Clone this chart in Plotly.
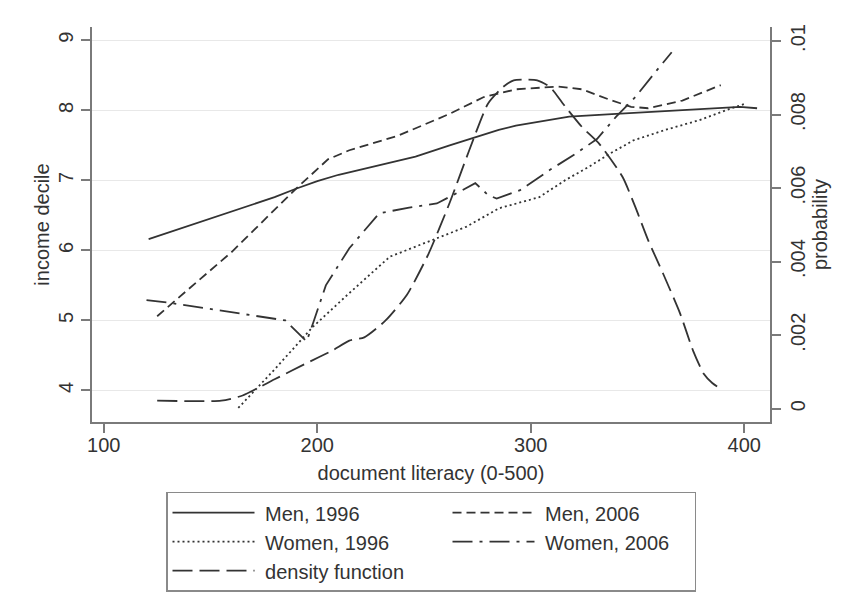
import plotly.graph_objects as go

# Income decile by document literacy score, with the literacy density
men96_x = [121, 140, 160, 180, 190, 200, 210, 230, 246, 262, 274, 285, 293, 305, 318, 340, 363, 387, 398, 406]
men96_y = [6.16, 6.35, 6.55, 6.76, 6.88, 6.99, 7.08, 7.22, 7.34, 7.50, 7.62, 7.72, 7.78, 7.84, 7.91, 7.95, 7.99, 8.03, 8.05, 8.03]

men06_x = [125, 160, 190, 205, 215, 238, 262, 278, 293, 313, 324, 337, 347, 355, 371, 389]
men06_y = [5.06, 5.98, 6.88, 7.30, 7.43, 7.64, 7.95, 8.19, 8.30, 8.34, 8.30, 8.15, 8.05, 8.03, 8.14, 8.36]

women96_x = [163, 180, 198, 215, 234, 254, 270, 285, 304, 316, 327, 337, 348, 363, 379, 394, 401]
women96_y = [3.75, 4.30, 4.91, 5.39, 5.91, 6.15, 6.34, 6.60, 6.76, 7.00, 7.19, 7.38, 7.57, 7.72, 7.86, 8.03, 8.10]

women06_x = [120, 131, 185, 195, 198, 204, 215, 229, 243, 256, 268, 274, 280, 284, 295, 309, 321, 331, 340, 349, 359, 366]
women06_y = [5.29, 5.25, 5.00, 4.70, 4.96, 5.50, 6.03, 6.53, 6.61, 6.67, 6.86, 6.96, 6.79, 6.74, 6.86, 7.15, 7.38, 7.59, 7.91, 8.19, 8.57, 8.83]

density_x = [125, 155, 165, 180, 195, 207, 215, 222, 232, 242, 252, 262, 271, 280, 287, 292, 298, 303, 309, 315,
             324, 332, 343, 349, 355, 362, 370, 376, 381, 385, 390]
density_y = [0.00022, 0.00022, 0.00036, 0.0008, 0.00124, 0.00158, 0.00185, 0.00194, 0.0024, 0.0031, 0.0042, 0.0056,
             0.0070, 0.0083, 0.00875, 0.00893, 0.00895, 0.00893, 0.00875, 0.0083, 0.00766, 0.00721, 0.0063, 0.00548,
             0.00458, 0.00367, 0.00258, 0.00158, 0.00095, 0.0007, 0.0005]

x_ticks = [100, 200, 300, 400]
decile_ticks = [4, 5, 6, 7, 8, 9]
prob_ticks = [0, 0.002, 0.004, 0.006, 0.008, 0.01]
prob_labels = ["0", ".002", ".004", ".006", ".008", ".01"]

INK = "#333333"
AXIS = "#7a7a7a"
FONT = "Liberation Sans, Arial, sans-serif"
PAD = "\u00a0"  # small gap between legend key and its label

# left legend column entries are wider so the right column sits further out
COL1_W = 183
COL2_W = 150

fig = go.Figure()
fig.add_trace(go.Scatter(x=men96_x, y=men96_y, name=PAD + "Men, 1996", mode="lines", legendwidth=COL1_W,
                         line=dict(color=INK, width=1.8, dash="solid")))
fig.add_trace(go.Scatter(x=men06_x, y=men06_y, name=PAD + "Men, 2006", mode="lines", legendwidth=COL2_W,
                         line=dict(color=INK, width=1.8, dash="9px,5px")))
fig.add_trace(go.Scatter(x=women96_x, y=women96_y, name=PAD + "Women, 1996", mode="lines", legendwidth=COL1_W,
                         line=dict(color=INK, width=1.8, dash="2px,3px")))
fig.add_trace(go.Scatter(x=women06_x, y=women06_y, name=PAD + "Women, 2006", mode="lines", legendwidth=COL2_W,
                         line=dict(color=INK, width=1.8, dash="20px,7px,3px,7px")))
fig.add_trace(go.Scatter(x=density_x, y=density_y, name=PAD + "density function", mode="lines", yaxis="y2",
                         legendwidth=COL1_W,
                         line=dict(color=INK, width=1.8, dash="20px,7px", shape="spline", smoothing=0.6)))

axis_common = dict(showline=True, linecolor=AXIS, linewidth=1.5, ticks="outside", ticklen=9,
                   tickwidth=1.5, tickcolor=AXIS, zeroline=False,
                   tickfont=dict(size=20, color=INK, family=FONT))

fig.update_layout(
    width=842, height=614,
    margin=dict(l=92, r=72, t=27, b=192),
    paper_bgcolor="white", plot_bgcolor="white",
    font=dict(family=FONT, color=INK, size=20),
    xaxis=dict(range=[94.47, 412.05], tickvals=x_ticks, showgrid=False, ticklabelstandoff=-5,
               title=dict(text="document literacy (0-500)", font=dict(size=20), standoff=11),
               **axis_common),
    yaxis=dict(range=[3.549, 9.19], tickvals=decile_ticks, showgrid=True, gridcolor="#e8e8e8", gridwidth=1,
               tickangle=-90, title=dict(text="income decile", font=dict(size=20), standoff=0),
               **axis_common),
    yaxis2=dict(range=[-0.000361, 0.01038], tickvals=prob_ticks, ticktext=prob_labels, overlaying="y",
                side="right", showgrid=False, tickangle=-90,
                title=dict(text="probability", font=dict(size=20), standoff=0),
                **axis_common),
    legend=dict(orientation="h", x=0.5, xanchor="center", y=-0.1765, yanchor="top",
                bordercolor="#8a8a8a", borderwidth=1.5, bgcolor="white",
                itemwidth=82, entrywidthmode="pixels",
                font=dict(size=20, color=INK, family=FONT), traceorder="normal"),
    showlegend=True,
)

fig.write_html("out.html")
